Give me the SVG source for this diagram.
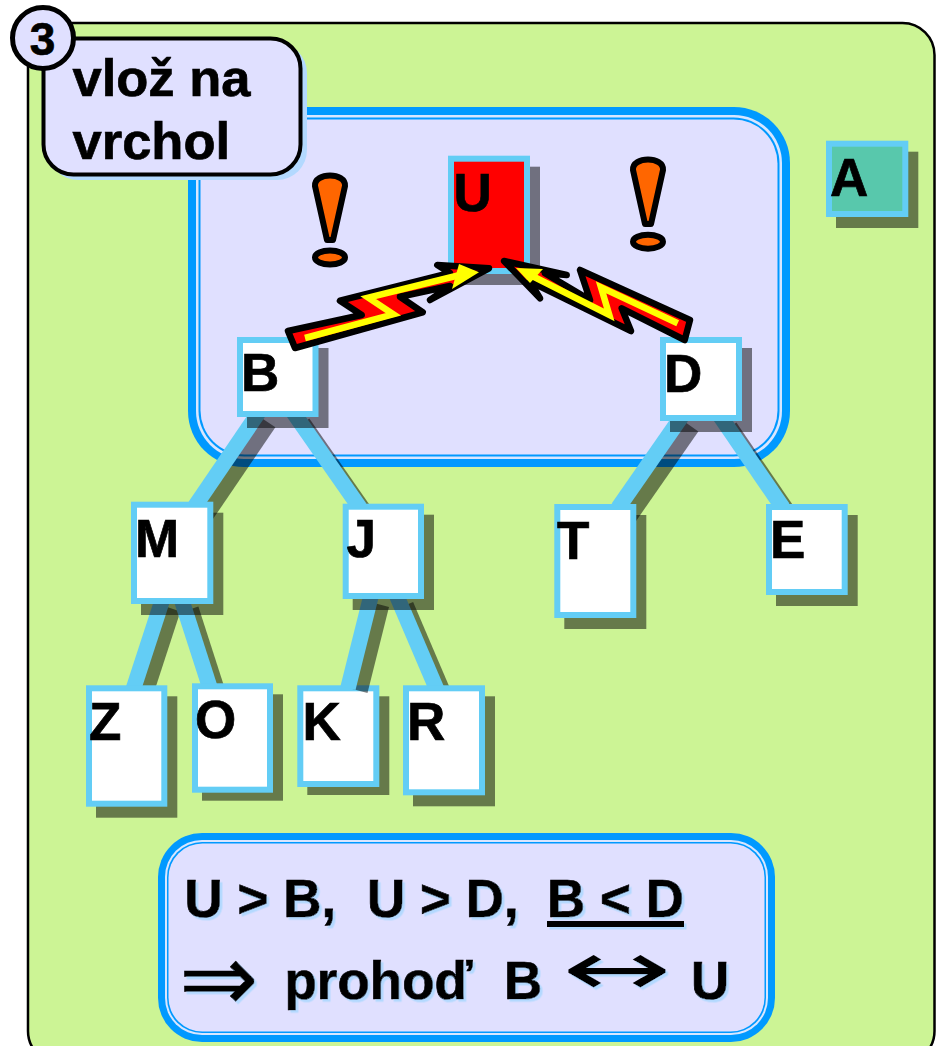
<svg xmlns="http://www.w3.org/2000/svg" width="940" height="1046" viewBox="0 0 940 1046">
<style>
text{font-family:"Liberation Sans",Arial,sans-serif;font-weight:bold;fill:#000;stroke:#000;stroke-width:.7}
.n{font-size:53px}
.big{font-size:52.5px}
.sym{font-family:"DejaVu Sans",sans-serif;font-weight:normal;stroke-width:.5}
.sym2{font-family:"DejaVu Sans",sans-serif;font-weight:normal;stroke-width:0}
.box{fill:#fff;stroke:#63cdf5;stroke-width:6}
.sh{fill:#000;fill-opacity:.5}
.e{stroke:#63cdf5;stroke-width:15.500;fill:none}
.es{stroke:#000;stroke-opacity:.5;stroke-width:15.500;fill:none}
.bang{fill:#f60;stroke:#000;stroke-width:6;stroke-linejoin:round}
.bolt{fill:#f00;stroke:#000;stroke-width:6.5;stroke-linejoin:round}
.boltin{fill:none;stroke:#ff0;stroke-width:6.5;stroke-linejoin:miter}
.head{fill:#ff0}
.p1{fill:#09f}.p2{fill:#d8e6ff}.p3{fill:#e0e0ff}
</style>
<defs>
<filter id="ts" x="-5%" y="-5%" width="110%" height="115%"><feDropShadow dx="2.5" dy="2.5" stdDeviation="0" flood-color="#b3d9ff" flood-opacity="1"/></filter>
</defs>
<rect width="940" height="1046" fill="#fff"/>
<rect id="background" x="28" y="23" width="906.5" height="1040" rx="32" fill="#ccf495" stroke="#000" stroke-width="2.5"/>
<g id="heap-panel">
<rect class="p1" x="188" y="107" width="602" height="360" rx="56"/>
<rect class="p2" x="196" y="115" width="586" height="344" rx="48"/>
<rect class="p1" x="198.500" y="117.500" width="581" height="339" rx="46"/>
<rect class="p3" x="200.500" y="119.500" width="577" height="335" rx="44"/>
</g>
<g id="node-K"><rect class="sh" x="307.300" y="696.300" width="82" height="98.700"/><rect class="box" x="300.300" y="688.300" width="76" height="95.700"/><text class="n" x="302.500" y="740">K</text></g>
<g id="connectors">
<g transform="translate(10 11)">
<line class="es" x1="259" y1="412" x2="195" y2="506"/>
<line class="es" x1="293" y1="412" x2="360" y2="508"/>
<line class="es" x1="682" y1="416" x2="618" y2="508"/>
<line class="es" x1="720" y1="416" x2="783" y2="508"/>
<line class="es" x1="163" y1="598" x2="133" y2="690"/>
<line class="es" x1="181" y1="598" x2="210" y2="688"/>
<line class="es" x1="371.500" y1="594" x2="350" y2="680"/>
<line class="es" x1="396" y1="594" x2="437" y2="690"/>
</g>
<line class="e" x1="259" y1="412" x2="195" y2="506"/>
<line class="e" x1="293" y1="412" x2="360" y2="508"/>
<line class="e" x1="682" y1="416" x2="618" y2="508"/>
<line class="e" x1="720" y1="416" x2="783" y2="508"/>
<line class="e" x1="163" y1="598" x2="133" y2="690"/>
<line class="e" x1="181" y1="598" x2="210" y2="688"/>
<line class="e" x1="371.500" y1="594" x2="348" y2="688"/>
<line class="e" x1="396" y1="594" x2="437" y2="690"/>
</g>
<g id="node-U"><rect class="sh" x="458" y="166.700" width="82" height="118.300"/><rect class="box" style="fill:#f00" x="451" y="158.700" width="76" height="112.300"/><text class="n" x="453.500" y="211">U</text></g>
<g id="node-A"><rect class="sh" x="836" y="151.700" width="82.300" height="76.300"/><rect class="box" style="fill:#58c8ac" x="829" y="143.700" width="76.300" height="70.300"/><text class="n" x="830" y="195.700">A</text></g>
<g id="node-B"><rect class="sh" x="247" y="348" width="81.500" height="80"/><rect class="box" x="240" y="340" width="75.500" height="74"/><text class="n" x="241" y="391">B</text></g>
<g id="node-D"><rect class="sh" x="670" y="348" width="82" height="84"/><rect class="box" x="663" y="340" width="76" height="78"/><text class="n" x="664" y="391.700">D</text></g>
<g id="node-M"><rect class="sh" x="141" y="512.700" width="82.300" height="102.300"/><rect class="box" x="134" y="504.700" width="76.300" height="96.300"/><text class="n" x="135" y="556.700">M</text></g>
<g id="node-J"><rect class="sh" x="352.700" y="514.700" width="81.300" height="95.300"/><rect class="box" x="345.700" y="506.700" width="75.300" height="89.300"/><text class="n" x="346.500" y="556.700">J</text></g>
<g id="node-T"><rect class="sh" x="564.300" y="515" width="82" height="114"/><rect class="box" x="557.300" y="507" width="76" height="108"/><text class="n" x="557" y="559">T</text></g>
<g id="node-E"><rect class="sh" x="776" y="515" width="81.700" height="91"/><rect class="box" x="769" y="507" width="75.700" height="85"/><text class="n" x="770" y="558">E</text></g>
<g id="node-Z"><rect class="sh" x="96" y="696.300" width="81.300" height="121.400"/><rect class="box" x="89" y="688.300" width="75.300" height="115.400"/><text class="n" x="89" y="740">Z</text></g>
<g id="node-O"><rect class="sh" x="202" y="694.300" width="81" height="106.400"/><rect class="box" x="195" y="686.300" width="75" height="103.400"/><text class="n" x="195" y="737.500">O</text></g>
<g id="node-R"><rect class="sh" x="413" y="696.300" width="82" height="110"/><rect class="box" x="406" y="688.300" width="76" height="104"/><text class="n" x="407" y="740">R</text></g>
<g id="bang-left">
<path class="bang" d="M315 186 C314 172 346 172 345 186 L333 240 L327 240 Z"/>
<ellipse class="bang" cx="330" cy="257.500" rx="15" ry="7"/>
</g>
<g id="bang-right">
<path class="bang" d="M633 170 C632 156 664 156 663 170 L651 224 L645 224 Z"/>
<ellipse class="bang" cx="648" cy="241.700" rx="15" ry="7"/>
</g>
<g id="bolt-left">
<polygon class="bolt" points="288,331 361.700,315 340,300.700 450,273 437.300,265 489,268.300 430,300 450,286 400,296.700 422.700,312.300 295,348"/>
<polyline class="boltin" points="305,338 393.300,314.300 368.300,297.700 460,275"/>
<polygon class="head" points="459,264 479,272.300 452,289"/>
</g>
<g id="bolt-right">
<polygon class="bolt" points="690,320 580,270 590,300 545,273.300 566.700,275 504,261 540,298.300 530,281.700 631,331 621.700,308.300 684.700,340"/>
<polyline class="boltin" points="677.700,323.300 601,287.300 609.300,315 528.300,274"/>
<polygon class="head" points="516,268 543,269 530,283"/>
</g>
<g id="title">
<rect x="48" y="43" width="259" height="137" rx="30" fill="#b3d9ff"/>
<rect x="43.500" y="38.500" width="257" height="136" rx="30" fill="#e0e0ff" stroke="#000" stroke-width="4"/>
<text class="big" x="72.500" y="95.500">vlož na</text>
<text class="big" x="72.500" y="158.500">vrchol</text>
</g>
<g id="step">
<circle cx="43" cy="38" r="30.500" fill="#e0e0ff" stroke="#000" stroke-width="5"/>
<text x="42.500" y="55" font-size="46" text-anchor="middle">3</text>
</g>
<g id="note">
<rect class="p1" x="158" y="833" width="617" height="209" rx="44"/>
<rect class="p2" x="165" y="840" width="603" height="195" rx="37"/>
<rect class="p1" x="167" y="842" width="599" height="191" rx="35"/>
<rect class="p3" x="168.500" y="843.500" width="596" height="188" rx="34"/>
<g filter="url(#ts)">
<text class="n" y="917"><tspan x="184.500">U &gt; B,</tspan><tspan x="367">U &gt; D,</tspan><tspan x="547">B &lt; D</tspan></text>
<rect x="547" y="921" width="137" height="6"/>
<text class="n sym" x="179" y="1011" style="font-size:95px">⇒</text>
<text class="n" y="999"><tspan x="284.500">prohoď</tspan><tspan x="504">B</tspan><tspan x="691">U</tspan></text>
<text class="n sym2" x="562" y="995" style="font-size:76px" textLength="110" lengthAdjust="spacingAndGlyphs">↔</text>
</g>
</g>
</svg>
